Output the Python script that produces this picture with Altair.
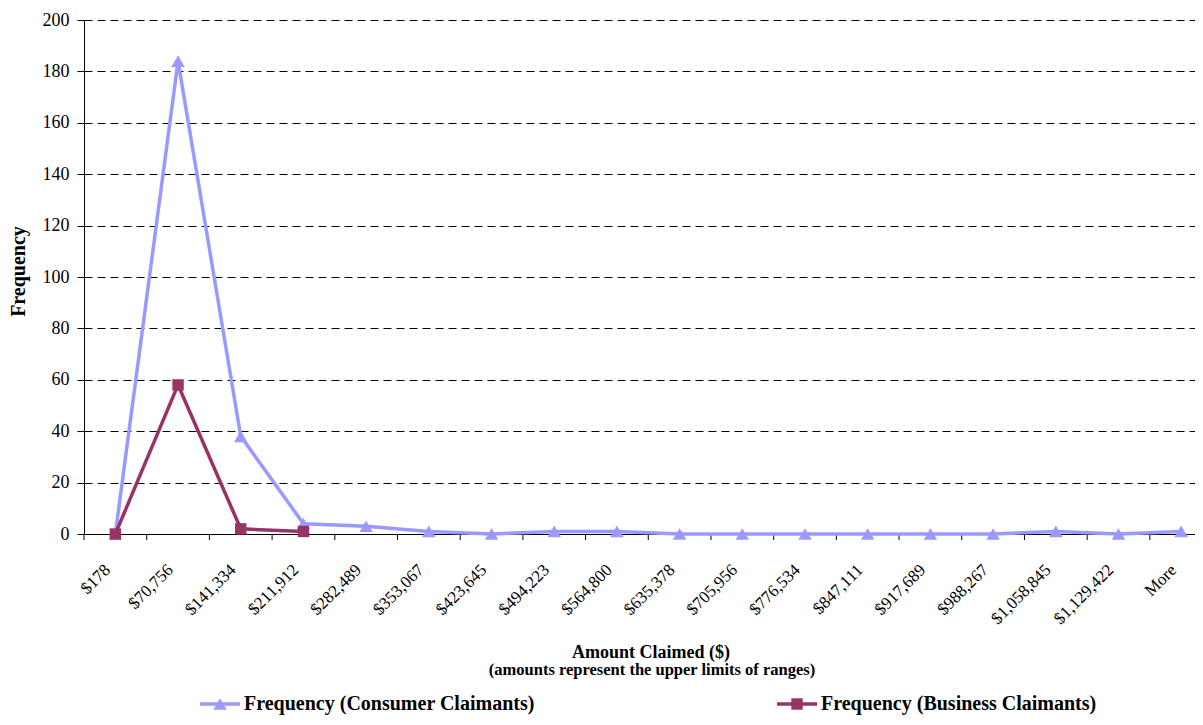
import json
import altair as alt
import pandas as pd

categories = ["$178", "$70,756", "$141,334", "$211,912", "$282,489", "$353,067",
              "$423,645", "$494,223", "$564,800", "$635,378", "$705,956", "$776,534",
              "$847,111", "$917,689", "$988,267", "$1,058,845", "$1,129,422", "More"]
consumer = [0, 184, 38, 4, 3, 1, 0, 1, 1, 0, 0, 0, 0, 0, 0, 1, 0, 1]
business = [0, 58, 2, 1]
series_names = ["Frequency (Consumer Claimants)", "Frequency (Business Claimants)"]
series_colors = ["#9999FF", "#993366"]
series_shapes = ["triangle-up", "square"]
series_sizes = [180, 130]
y_ticks = [0, 20, 40, 60, 80, 100, 120, 140, 160, 180, 200]
x_title = "Amount Claimed ($)"
x_subtitle = "(amounts represent the upper limits of ranges)"

rows = []
for i, v in enumerate(consumer):
    rows.append({"idx": i, "cat": categories[i], "freq": v, "series": series_names[0]})
for i, v in enumerate(business):
    rows.append({"idx": i, "cat": categories[i], "freq": v, "series": series_names[1]})
df = pd.DataFrame(rows)

# category boundaries (Excel puts the x ticks between categories)
ticks_df = pd.DataFrame({"pos": [i - 0.5 for i in range(len(categories))]})

FONT = "Liberation Serif"
W, H = 1111, 514
X_DOMAIN = [-0.5, 17.22]

label_expr = json.dumps(categories) + "[datum.value]"

x_scale = alt.Scale(domain=X_DOMAIN, nice=False, zero=False)
x_axis = alt.Axis(title=None, values=list(range(len(categories))), labelExpr=label_expr,
                  labelAngle=-45, labelAlign="right", labelBaseline="middle",
                  labelFont=FONT, labelFontSize=17, labelColor="black",
                  labelPadding=33, labelOffset=-8, ticks=False, domainColor="black",
                  domainWidth=1, grid=False, labelOverlap=False, labelBound=False,
                  labelFlush=False)
x_enc = alt.X("idx:Q", scale=x_scale, axis=x_axis)
y_enc = alt.Y(
    "freq:Q",
    scale=alt.Scale(domain=[0, 200], nice=False),
    axis=alt.Axis(title="Frequency", values=y_ticks, grid=True, gridDash=[8, 5],
                  gridColor="black", gridWidth=1, tickSize=7, tickColor="black",
                  domainColor="black", labelFont=FONT, labelFontSize=18,
                  labelColor="black", labelPadding=8, titleFont=FONT,
                  titleFontSize=20, titleFontWeight="bold", titleColor="black",
                  titleX=-56, titleY=251),
)
color_scale = alt.Scale(domain=series_names, range=series_colors)


def series_layers(k):
    name = series_names[k]
    base = alt.Chart(df).transform_filter(alt.datum.series == name)
    line = base.mark_line(strokeWidth=3.5).encode(
        x=x_enc, y=y_enc, color=alt.Color("series:N", scale=color_scale, legend=None))
    pts = base.mark_point(filled=True, shape=series_shapes[k], size=series_sizes[k],
                          opacity=1).encode(
        x=x_enc, y=y_enc, color=alt.Color("series:N", scale=color_scale, legend=None))
    return [line, pts]


x_ticks = alt.Chart(ticks_df).mark_rule(color="black", strokeWidth=1).encode(
    x=alt.X("pos:Q", scale=x_scale, axis=x_axis),
    y=alt.value(H), y2=alt.value(H + 6),
)

# axis title and its note, centred under the plot
titles_df = pd.DataFrame({"t": [x_title]})
subtitle_df = pd.DataFrame({"t": [x_subtitle]})
title_mark = alt.Chart(titles_df).mark_text(
    align="center", baseline="alphabetic", font=FONT, fontSize=18, fontWeight="bold",
    color="black").encode(x=alt.value(567), y=alt.value(638), text="t:N")
subtitle_mark = alt.Chart(subtitle_df).mark_text(
    align="center", baseline="alphabetic", font=FONT, fontSize=16.5, fontWeight="bold",
    color="black").encode(x=alt.value(568), y=alt.value(655), text="t:N")

# legend below the chart (line + marker + bold label for each series)
LEG_Y = 684
LEG_X = [116, 693]


def legend_entry(k):
    d = pd.DataFrame({"series": [series_names[k]]})
    x0 = LEG_X[k]
    seg = alt.Chart(d).mark_rule(strokeWidth=3.5, color=series_colors[k]).encode(
        x=alt.value(x0), x2=alt.value(x0 + 40), y=alt.value(LEG_Y))
    mk = alt.Chart(d).mark_point(filled=True, opacity=1, shape=series_shapes[k],
                                 size=series_sizes[k], color=series_colors[k]).encode(
        x=alt.value(x0 + 20), y=alt.value(LEG_Y))
    txt = alt.Chart(d).mark_text(align="left", baseline="middle", font=FONT, fontSize=20,
                                 fontWeight="bold", color="black").encode(
        x=alt.value(x0 + 44), y=alt.value(LEG_Y), text="series:N")
    return [seg, mk, txt]


layers = [x_ticks] + series_layers(0) + series_layers(1) + [title_mark, subtitle_mark] + \
    legend_entry(0) + legend_entry(1)

chart = alt.layer(*layers).properties(
    width=W, height=H,
    autosize=alt.AutoSizeParams(type="none"),
    padding={"left": 76, "top": 12, "right": 0, "bottom": 183},
).configure_view(stroke=None)

chart.save("out.html", embed_options={"renderer": "svg", "actions": False})
